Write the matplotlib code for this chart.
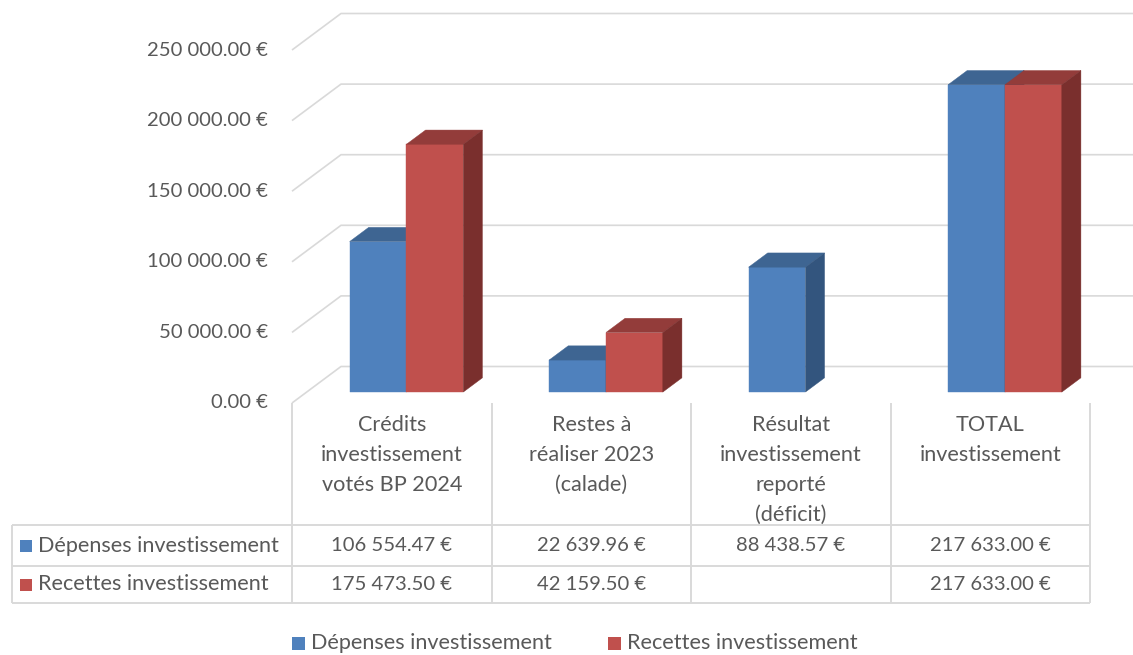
import matplotlib
matplotlib.use("Agg")
import matplotlib.pyplot as plt
from matplotlib.patches import Polygon, Rectangle

# ---------------- data ----------------
categories = ["Crédits\ninvestissement\nvotés BP 2024",
              "Restes à\nréaliser 2023\n(calade)",
              "Résultat\ninvestissement\nreporté\n(déficit)",
              "TOTAL\ninvestissement"]
series_names = ["Dépenses investissement", "Recettes investissement"]
depenses = [106554.47, 22639.96, 88438.57, 217633.00]
recettes = [175473.50, 42159.50, None, 217633.00]
y_ticks = [0, 50000, 100000, 150000, 200000, 250000]

# ---------------- style ----------------
FONT = "Lato"
FS_NUM = 14.6
FS_TXT = 15.6
TXT = "#595959"
GRID = "#D9D9D9"
front_cols = ["#4F81BD", "#C0504D"]
top_cols = ["#3E6592", "#933C3A"]
side_cols = ["#33557E", "#7A2F2D"]

def fmt(v):
    return f"{v:,.2f}".replace(",", " ") + " €"

W, H = 1133, 655
fig = plt.figure(figsize=(W / 100, H / 100), dpi=100)

# pixel layout of the front plane
X0, X1 = 292, 1090
Y0, Y1 = 403, 50  # pixel rows (from top) for 0 and 250 000
ax = fig.add_axes([X0 / W, (H - Y0) / H, (X1 - X0) / W, (Y0 - Y1) / H])
ax.set_xlim(0, len(categories))
ax.set_ylim(0, 250000)
ax.axis("off")

# depth (oblique projection) in data units
px_x = len(categories) / (X1 - X0)
px_y = 250000 / (Y0 - Y1)
DX = 49 * px_x
DY = 36.5 * px_y

# back wall / side wall gridlines
for v in y_ticks:
    ax.plot([0, DX, len(categories) + DX], [v, v + DY, v + DY],
            color=GRID, lw=1.2, clip_on=False, zorder=1, solid_capstyle="butt")
    ax.text(-24 * px_x, v, fmt(v), ha="right", va="center", fontsize=FS_NUM,
            color=TXT, family=FONT, clip_on=False)

# bars
bw = 0.285
d0, d1 = 0.30, 0.69
ox0, oy0 = d0 * DX, d0 * DY
ddx, ddy = (d1 - d0) * DX, (d1 - d0) * DY
series = [depenses, recettes]
for i in range(len(categories)):
    c = i + 0.5
    for s, vals in enumerate(series):
        v = vals[i]
        if v is None:
            continue
        xa = c - bw + s * bw + ox0
        xb = xa + bw
        ya, yb = oy0, oy0 + v
        z = 3 + i * 2 + s
        ax.bar(xa, v, width=bw, bottom=ya, align="edge", color=front_cols[s],
               edgecolor=front_cols[s], lw=0.3, clip_on=False, zorder=z)
        ax.add_patch(Polygon([(xa, yb), (xb, yb), (xb + ddx, yb + ddy), (xa + ddx, yb + ddy)],
                             closed=True, facecolor=top_cols[s], edgecolor=top_cols[s],
                             lw=0.3, clip_on=False, zorder=z))
        ax.add_patch(Polygon([(xb, ya), (xb + ddx, ya + ddy), (xb + ddx, yb + ddy), (xb, yb)],
                             closed=True, facecolor=side_cols[s], edgecolor=side_cols[s],
                             lw=0.3, clip_on=False, zorder=z))

# ---------------- data table & legend (pixel overlay) ----------------
ov = fig.add_axes([0, 0, 1, 1], zorder=-1)
ov.set_xlim(0, W)
ov.set_ylim(H, 0)
ov.axis("off")

colw = (X1 - X0) / len(categories)
TL = 12
rows_y = [525, 566, 603]
lk = dict(color=GRID, lw=1.4, solid_capstyle="butt")
for yy in rows_y:
    ov.plot([TL, X1], [yy, yy], **lk)
ov.plot([TL, TL], [rows_y[0], rows_y[-1]], **lk)
for k in range(len(categories) + 1):
    xx = X0 + k * colw
    ov.plot([xx, xx], [Y0, rows_y[-1]], **lk)

for i, cat in enumerate(categories):
    cx = X0 + (i + 0.5) * colw
    for k, line in enumerate(cat.split("\n")):
        ov.text(cx, 425 + 30 * k, line, ha="center", va="center", fontsize=FS_TXT,
                color=TXT, family=FONT)

for s, vals in enumerate(series):
    ry = (rows_y[s] + rows_y[s + 1]) / 2
    ov.add_patch(Rectangle((20, ry - 6), 12, 12, facecolor=front_cols[s], edgecolor="none"))
    ov.text(38, ry, series_names[s], ha="left", va="center", fontsize=FS_TXT,
            color=TXT, family=FONT)
    for i, v in enumerate(vals):
        if v is None:
            continue
        ov.text(X0 + (i + 0.5) * colw, ry, fmt(v), ha="center", va="center",
                fontsize=FS_NUM, color=TXT, family=FONT)

# legend
leg_x = [292, 608]
for s in range(2):
    ov.add_patch(Rectangle((leg_x[s], 637), 13, 13, facecolor=front_cols[s], edgecolor="none"))
    ov.text(leg_x[s] + 19, 643, series_names[s], ha="left", va="center", fontsize=FS_TXT,
            color=TXT, family=FONT)

fig.savefig("out.png", dpi=100, facecolor="white")
